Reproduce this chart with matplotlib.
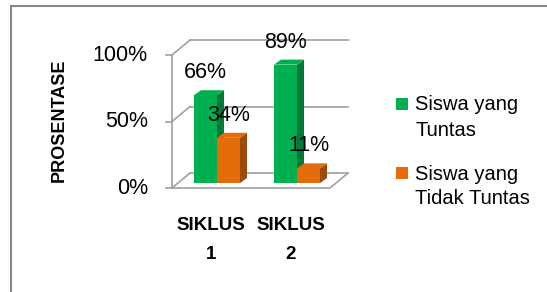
"""
Grafik batang ketuntasan siswa per siklus (gaya 3D sederhana)
"""

import matplotlib
matplotlib.use('Agg')
import matplotlib.pyplot as plt
from matplotlib.patches import Polygon, Rectangle

siklus = ['SIKLUS\n1', 'SIKLUS\n2']
tuntas = [66, 89]          # Siswa yang Tuntas (%)
tidak_tuntas = [34, 11]    # Siswa yang Tidak Tuntas (%)
seri = ['Siswa yang\nTuntas', 'Siswa yang\nTidak Tuntas']
yticks = [0, 50, 100]

warna = ['#00b050', '#e46c0a']
warna_sisi = ['#007a38', '#9c4a08']
abu = '#a0a0a0'
plt.rcParams['font.family'] = ['Liberation Sans', 'DejaVu Sans']

fig = plt.figure(figsize=(5.47, 2.92), dpi=100)
W, H = 547, 292
ax = fig.add_axes([150 / W, 1 - 200 / H, 210 / W, 170 / H])
ax.set_xlim(-0.8375, 1.7875)
ax.set_ylim(-12.78, 115.04)
ax.axis('off')

w = 0.2875          # lebar batang
ddx, ddy = 0.0875, 3.76   # kedalaman batang
fdx, fdy = 0.075, 3.76    # bidang depan
bdx, bdy = 0.15, 7.5      # dinding belakang
xl, xr = -0.4875, 1.4875

# dinding & grid
for t in yticks:
    ax.plot([xl + bdx, xr + bdx], [t + bdy, t + bdy], color=abu, lw=1.2, zorder=1)
    ax.plot([xl - fdx, xl + bdx], [t - fdy, t + bdy], color=abu, lw=1.2, zorder=1)
    ax.plot([xl - fdx - 0.075, xl - fdx], [t - fdy, t - fdy], color=abu, lw=1.2, zorder=1)
    ax.text(xl - fdx - 0.3, t - fdy, f'{t}%', ha='right', va='center', fontsize=15.5)
ax.plot([xl - fdx, xl - fdx], [-fdy, 100 - fdy], color=abu, lw=1.2, zorder=1)
ax.plot([xl - fdx, xr - fdx, xr + bdx], [-fdy, -fdy, bdy], color=abu, lw=1.2, zorder=1)

# batang
for i in range(len(siklus)):
    for k, nilai in enumerate([tuntas[i], tidak_tuntas[i]]):
        x0 = i - w + k * w
        x1 = x0 + w
        ax.add_patch(Polygon([(x1, 0), (x1, nilai), (x1 + ddx, nilai + ddy), (x1 + ddx, ddy)],
                             closed=True, color=warna_sisi[k], lw=0, zorder=2 + 2 * i + k))
        ax.add_patch(Polygon([(x0, nilai), (x1, nilai), (x1 + ddx, nilai + ddy), (x0 + ddx, nilai + ddy)],
                             closed=True, color=warna[k], lw=0, zorder=2 + 2 * i + k))
        ax.bar(x0, nilai, width=w, align='edge', color=warna[k], lw=0, zorder=2 + 2 * i + k)
        ax.text(x0 + w / 2, nilai + 17, f'{nilai}%', ha='center', va='center',
                fontsize=15.5, zorder=10)
    baris = siklus[i].split('\n')
    ax.text(i - fdx, -31.6, baris[0], ha='center', va='center', fontsize=13.5,
            fontweight='bold', clip_on=False)
    ax.text(i - fdx, -54.1, baris[1], ha='center', va='center', fontsize=13.5,
            fontweight='bold', clip_on=False)

fig.text(59 / W, 1 - 120 / H, 'PROSENTASE', rotation=90, ha='center', va='center',
         fontsize=13, fontweight='bold')

# legenda
for k, label in enumerate(seri):
    y = 98 + 69 * k
    fig.add_artist(Rectangle((396 / W, 1 - (y + 12) / H), 12 / W, 12 / H,
                             transform=fig.transFigure, color=warna[k], lw=0))
    l1, l2 = label.split('\n')
    fig.text(415 / W, 1 - (y + 7) / H, l1, ha='left', va='center', fontsize=14.5)
    fig.text(415 / W, 1 - (y + 32) / H, l2, ha='left', va='center', fontsize=14.5)

# bingkai
fig.add_artist(Rectangle((11 / W, -0.1), 1.2, 1 - 6 / H + 0.1, transform=fig.transFigure,
                         fill=False, edgecolor='#888888', lw=1.5))

fig.savefig('out.png', dpi=100)
